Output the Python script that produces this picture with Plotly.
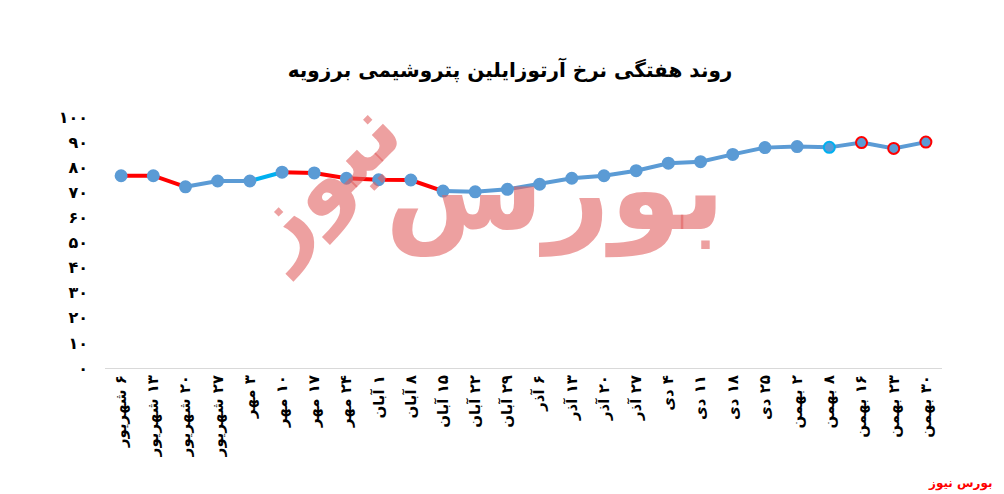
import plotly.graph_objects as go

# ---- data ----
categories = ["۶ شهریور", "۱۳ شهریور", "۲۰ شهریور", "۲۷ شهریور", "۳ مهر", "۱۰ مهر",
              "۱۷ مهر", "۲۴ مهر", "۱ آبان", "۸ آبان", "۱۵ آبان", "۲۲ آبان", "۲۹ آبان",
              "۶ آذر", "۱۳ آذر", "۲۰ آذر", "۲۷ آذر", "۴ دی", "۱۱ دی", "۱۸ دی", "۲۵ دی",
              "۲ بهمن", "۸ بهمن", "۱۶ بهمن", "۲۳ بهمن", "۳۰ بهمن"]
values = [76.6, 76.6, 72.2, 74.5, 74.5, 78.0, 77.7, 75.6, 75.0, 74.9, 70.5, 70.2, 71.2,
          73.2, 75.6, 76.6, 78.6, 81.6, 82.2, 85.1, 87.8, 88.2, 87.9, 89.8, 87.5, 90.0]
y_tick_values = [0, 10, 20, 30, 40, 50, 60, 70, 80, 90, 100]
y_tick_labels = ["۰", "۱۰", "۲۰", "۳۰", "۴۰", "۵۰", "۶۰", "۷۰", "۸۰", "۹۰", "۱۰۰"]
title_text = "روند هفتگی نرخ آرتوزایلین پتروشیمی برزویه"
source_text = "بورس نیوز"
watermark_words = ["بورس", "نیوز"]

# ---- styles ----
RED = "#FF0000"
BLUE = "#5B9BD5"
LBLUE = "#00B0F0"
WM = "rgba(225,97,97,0.6)"
# segment runs: (start index, end index, color)
segment_runs = [(0, 2, RED), (2, 4, BLUE), (4, 5, LBLUE), (5, 10, RED), (10, 25, BLUE)]
marker_line_colors = [BLUE] * 22 + [LBLUE, RED, RED, RED]

x = list(range(len(categories)))


def px_x(v):
    return (v - 105) / 837


def px_y(v):
    return (368 - v) / 251


fig = go.Figure()
for s, e, c in segment_runs:
    fig.add_trace(go.Scatter(
        x=x[s:e + 1], y=values[s:e + 1], mode="lines",
        line=dict(color=c, width=4), hoverinfo="skip", showlegend=False))

fig.add_trace(go.Scatter(
    x=x, y=values, mode="markers",
    marker=dict(size=11, color=BLUE,
                line=dict(color=marker_line_colors, width=2)),
    showlegend=False))

# watermark (approximation of the calligraphic logo)
fig.add_annotation(
    text="<b>" + watermark_words[0] + "</b>", xref="paper", yref="paper",
    x=px_x(555), y=px_y(190), xanchor="center", yanchor="middle",
    showarrow=False,
    font=dict(family="DejaVu Sans", size=115, color=WM))
fig.add_annotation(
    text="<b>" + watermark_words[1] + "</b>", xref="paper", yref="paper",
    x=px_x(320), y=px_y(180), xanchor="center", yanchor="middle",
    showarrow=False, textangle=-45,
    font=dict(family="DejaVu Sans", size=90, color=WM))

fig.add_annotation(
    text="<b>" + source_text + "</b>", xref="paper", yref="paper",
    x=px_x(995), y=px_y(483), xanchor="right", yanchor="middle",
    showarrow=False,
    font=dict(family="DejaVu Sans", size=12, color=RED))

fig.update_layout(
    width=1004, height=494,
    paper_bgcolor="white", plot_bgcolor="white",
    margin=dict(l=105, r=62, t=117, b=126),
    title=dict(text="<b>" + title_text + "</b>", x=0.508, xref="container",
               y=0.858, yref="container", xanchor="center", yanchor="middle",
               font=dict(family="DejaVu Sans", size=20, color="black")),
    xaxis=dict(range=[-0.5, len(categories) - 0.5], tickvals=x,
               ticktext=["\u200F" + c for c in categories], tickangle=-90,
               showgrid=False, zeroline=False, showline=True,
               linecolor="#D9D9D9", linewidth=1, ticks="",
               tickfont=dict(family="DejaVu Sans", size=15, color="black",
                             weight="bold")),
    yaxis=dict(range=[0, 100], tickvals=y_tick_values, ticktext=y_tick_labels,
               showgrid=False, zeroline=False, showline=False, ticks="",
               ticklabelstandoff=16,
               tickfont=dict(family="DejaVu Sans", size=16, color="black",
                             weight="bold")),
)

fig.write_html("out.html", config={"displayModeBar": False},
               post_script="document.body.style.margin='0px';document.body.style.overflow='hidden';")
